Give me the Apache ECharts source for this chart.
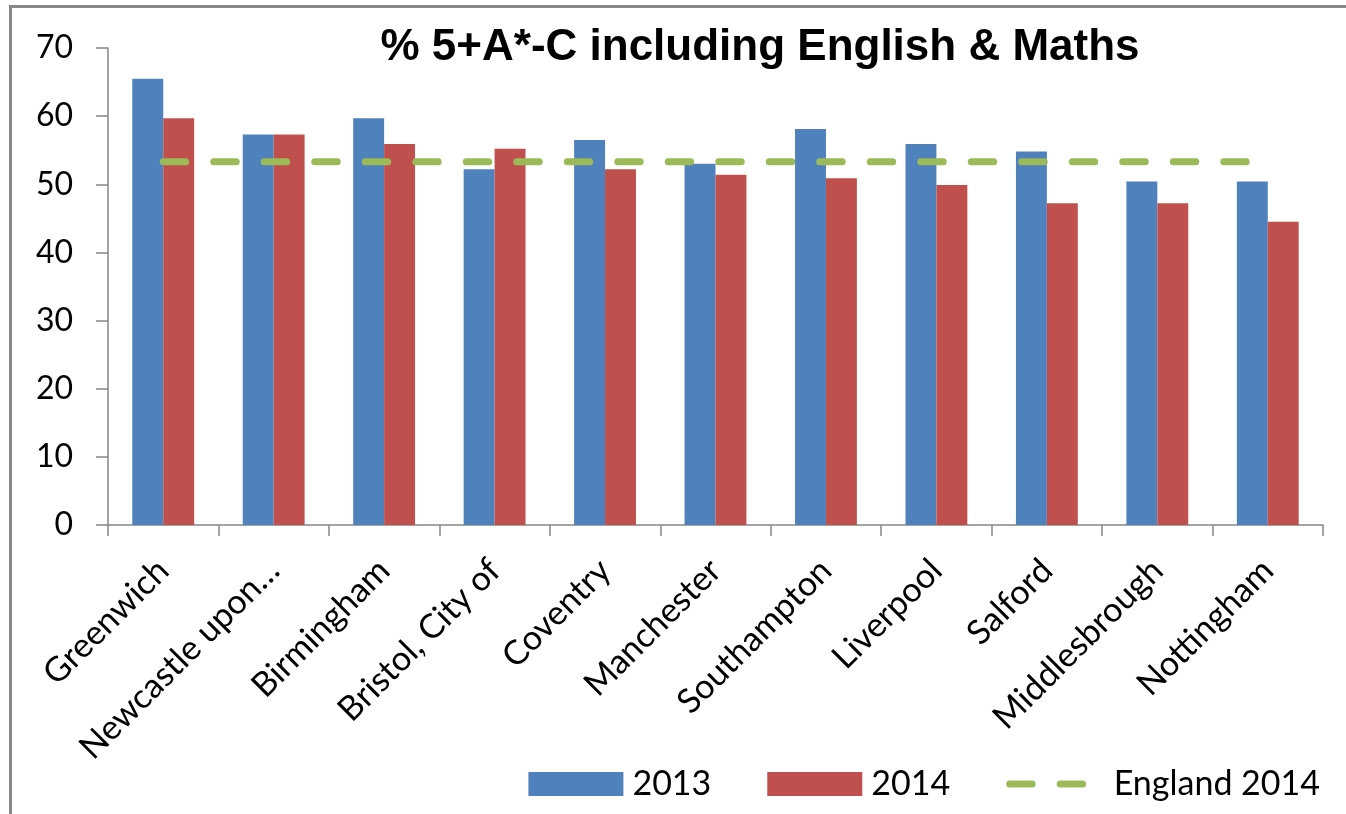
<!DOCTYPE html>
<html>
<head>
<meta charset="utf-8">
<script src="https://cdn.jsdelivr.net/npm/echarts@6/dist/echarts.min.js"></script>
<style>
html,body{margin:0;padding:0;background:#fff;}
#chart{width:1346px;height:814px;}
</style>
</head>
<body>
<div id="chart"></div>
<script>
const categories = ['Greenwich','Newcastle upon\u2026','Birmingham','Bristol, City of','Coventry','Manchester','Southampton','Liverpool','Salford','Middlesbrough','Nottingham'];
const values2013 = [65.5, 57.3, 59.7, 52.2, 56.5, 53.0, 58.1, 55.9, 54.8, 50.4, 50.4];
const values2014 = [59.7, 57.3, 55.9, 55.2, 52.2, 51.4, 50.9, 49.9, 47.2, 47.2, 44.5];
const england2014 = [53.3, 53.3, 53.3, 53.3, 53.3, 53.3, 53.3, 53.3, 53.3, 53.3, 53.3];
const yTicks = [0, 10, 20, 30, 40, 50, 60, 70];

const chart = echarts.init(document.getElementById('chart'));
const labelFont = 'Lato, "Open Sans", sans-serif';
const greenLine = {color: '#9BBB59', width: 7, type: [22.5, 28], cap: 'round'};
chart.setOption({
  animation: false,
  backgroundColor: '#fff',
  title: {
    text: '% 5+A*-C including English & Maths',
    left: 755, top: 21, textAlign: 'center',
    textStyle: {fontFamily: '"Liberation Sans", Arial, sans-serif', fontWeight: 'bold', fontSize: 44, color: '#000'}
  },
  legend: {
    right: 26, top: 767, padding: 0,
    itemWidth: 95, itemHeight: 24, itemGap: 56,
    textStyle: {fontFamily: labelFont, fontSize: 34, color: '#000', padding: [0,0,0,4]},
    data: [
      {name: '2013', icon: 'rect'},
      {name: '2014', icon: 'rect'},
      {name: 'England 2014', itemStyle: {opacity: 0}, lineStyle: greenLine}
    ]
  },
  grid: {left: 108, right: 23, top: 48, bottom: 289, containLabel: false},
  xAxis: {
    type: 'category',
    data: categories,
    axisLine: {lineStyle: {color: '#868686', width: 1.5}},
    axisTick: {show: true, length: 11, lineStyle: {color: '#868686', width: 1.5}},
    axisLabel: {rotate: 45, margin: 40, interval: 0, fontFamily: labelFont, fontSize: 34, color: '#000'}
  },
  yAxis: {
    type: 'value', min: yTicks[0], max: yTicks[yTicks.length-1], interval: 10,
    axisLine: {show: true, lineStyle: {color: '#868686', width: 1.5}},
    axisTick: {show: true, length: 12, lineStyle: {color: '#868686', width: 1.5}},
    splitLine: {show: false},
    axisLabel: {margin: 35, fontFamily: labelFont, fontSize: 32, color: '#000'}
  },
  series: [
    {name: '2013', type: 'bar', data: values2013, barGap: '0%', barCategoryGap: '44%',
     itemStyle: {color: '#4F81BD'}},
    {name: '2014', type: 'bar', data: values2014, barGap: '0%', barCategoryGap: '44%',
     itemStyle: {color: '#C0504D'}},
    {name: 'England 2014', type: 'line', data: england2014, symbol: 'none', z: 5,
     lineStyle: greenLine,
     itemStyle: {color: '#9BBB59'}}
  ],
  graphic: [
    {type: 'line', shape: {x1: 9, y1: 6.5, x2: 1346, y2: 6.5}, style: {stroke: '#888', lineWidth: 3}},
    {type: 'line', shape: {x1: 10.5, y1: 5, x2: 10.5, y2: 814}, style: {stroke: '#888', lineWidth: 3}}
  ]
});
</script>
</body>
</html>
